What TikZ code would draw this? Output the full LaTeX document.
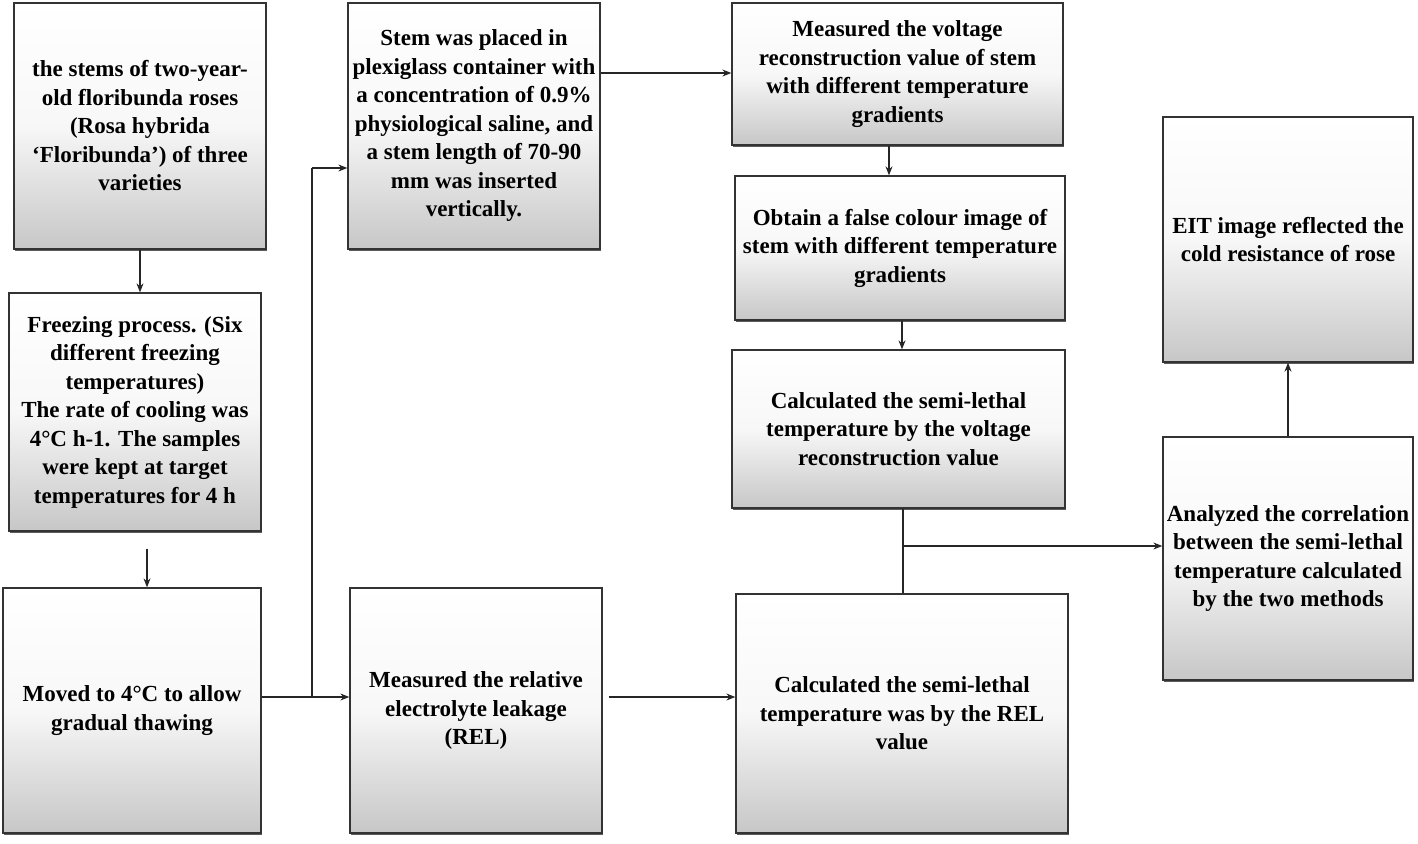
\documentclass[tikz,border=0pt]{standalone}
\usepackage{fontspec}
\setmainfont{Liberation Serif}
\usetikzlibrary{shadows,arrows.meta,calc}
\begin{document}
\begin{tikzpicture}[x=1pt,y=-1pt,
 box/.style={draw=black!80, line width=1.3pt, top color=white, bottom color=black!22, middle color=white!97!black,
   align=center, inner sep=1pt, font=\fontsize{23}{28.5}\selectfont\bfseries,
   drop shadow={shadow xshift=1.2pt, shadow yshift=-2.2pt, fill=black!75, opacity=0.85}},
 arr/.style={-{Stealth[length=9pt,width=7pt]}, line width=1.2pt, black!85},
 ln/.style={line width=1.2pt, black!85}]
\useasboundingbox (0,0) rectangle (1418,843);

\node[box, minimum width=252pt, minimum height=246pt] (A) at (140,126)
 {the stems of two-year-\\old floribunda roses\\(Rosa hybrida\\‘Floribunda’) of three\\varieties};
\node[box, minimum width=252pt, minimum height=238pt] (B) at (135,412)
 {Freezing process. (Six\\different freezing\\temperatures)\\The rate of cooling was\\4°C h-1. The samples\\were kept at target\\temperatures for 4 h};
\node[box, minimum width=258pt, minimum height=245pt] (C) at (132,710.5)
 {Moved to 4°C to allow\\gradual thawing};
\node[box, minimum width=252pt, minimum height=246pt] (D) at (474,126)
 {Stem was placed in\\plexiglass container with\\a concentration of 0.9\%\\physiological saline, and\\a stem length of 70-90\\mm was inserted\\vertically.};
\node[box, minimum width=252pt, minimum height=245pt] (E) at (476,710.5)
 {Measured the relative\\electrolyte leakage\\(REL)};
\node[box, minimum width=331pt, minimum height=142pt] (F) at (897.5,74)
 {Measured the voltage\\reconstruction value of stem\\with different temperature\\gradients};
\node[box, minimum width=330pt, minimum height=144pt] (G) at (900,248)
 {Obtain a false colour image of\\stem with different temperature\\gradients};
\node[box, minimum width=333pt, minimum height=158pt] (H) at (898.5,429)
 {Calculated the semi-lethal\\temperature by the voltage\\reconstruction value};
\node[box, minimum width=332pt, minimum height=239pt] (I) at (902,713.5)
 {Calculated the semi-lethal\\temperature was by the REL\\value};
\node[box, minimum width=250pt, minimum height=243pt] (J) at (1288,558.5)
 {Analyzed the correlation\\between the semi-lethal\\temperature calculated\\by the two methods};
\node[box, minimum width=250pt, minimum height=245pt] (K) at (1288,239.5)
 {EIT image reflected the\\cold resistance of rose};

% connectors
\draw[arr] (A.south) -- (A.south |- B.north);
\draw[arr, shorten <=17pt] ([xshift=12pt]B.south) -- ([xshift=12pt]B.south |- C.north);
\coordinate (j1) at (312,697);
\coordinate (d1) at (312,168);
\draw[arr] ([yshift=13.5pt]C.east) -- ([yshift=13.5pt]C.east -| E.west);
\draw[ln] (j1) -- (d1);
\draw[arr] (d1) -- (d1 -| D.west);
\draw[arr] ([yshift=53pt]D.east) -- ([yshift=53pt]D.east -| F.west);
\draw[arr, shorten <=6pt] ([yshift=13.5pt]E.east) -- ([yshift=13.5pt]E.east -| I.west);
\draw[arr] ([xshift=-8.5pt]F.south) -- ([xshift=-8.5pt]F.south |- G.north);
\draw[arr] ([xshift=2pt]G.south) -- ([xshift=2pt]G.south |- H.north);
\draw[ln] ([xshift=4.5pt]H.south) -- ([xshift=4.5pt]H.south |- I.north);
\coordinate (hj) at (903,546);
\draw[arr] (hj) -- (hj -| J.west);
\draw[arr] (J.north) -- (K.south);
\end{tikzpicture}
\end{document}
